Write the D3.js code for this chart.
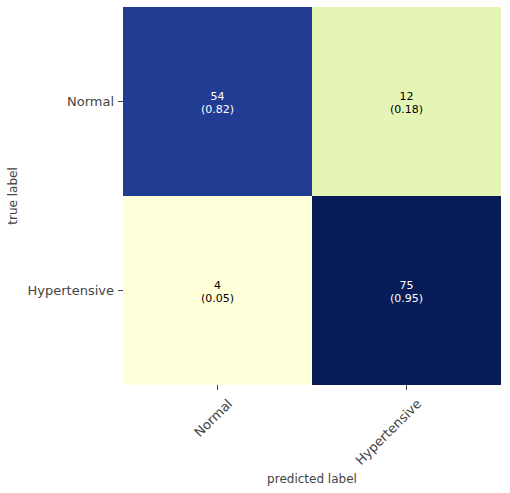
<!DOCTYPE html>
<html><head><meta charset="utf-8">
<script src="https://cdn.jsdelivr.net/npm/d3@7"></script>
<style>body{margin:0;background:#fff}</style>
</head><body>
<script>
var labels = ["Normal", "Hypertensive"];
var counts = [[54, 12], [4, 75]];
var rates = [[0.82, 0.18], [0.05, 0.95]];

var w = 510, h = 493;
var mLeft = 123, mTop = 7, size = 378;

var svg = d3.select("body").append("svg").attr("width", w).attr("height", h)
    .style("font-family", "DejaVu Sans, sans-serif");

var x = d3.scaleBand().domain(labels).range([mLeft, mLeft + size]);
var y = d3.scaleBand().domain(labels).range([mTop, mTop + size]);
var color = d3.scaleSequential(d3.interpolateYlGnBu).domain([0.05, 0.95]);

var cells = [];
labels.forEach(function(t, i) {
    labels.forEach(function(p, j) {
        cells.push({t: t, p: p, n: counts[i][j], r: rates[i][j]});
    });
});

svg.selectAll("rect").data(cells).enter().append("rect")
    .attr("x", function(d) { return x(d.p); })
    .attr("y", function(d) { return y(d.t); })
    .attr("width", x.bandwidth()).attr("height", y.bandwidth())
    .attr("fill", function(d) { return color(d.r); });

var txt = svg.selectAll("text.cell").data(cells).enter().append("text")
    .attr("class", "cell")
    .attr("text-anchor", "middle")
    .attr("font-size", "11px")
    .attr("fill", function(d) { return d.r > 0.5 ? "#fff" : "#000"; });
txt.append("tspan")
    .attr("x", function(d) { return x(d.p) + x.bandwidth() / 2; })
    .attr("y", function(d) { return y(d.t) + y.bandwidth() / 2 - 2; })
    .text(function(d) { return d.n; });
txt.append("tspan")
    .attr("x", function(d) { return x(d.p) + x.bandwidth() / 2; })
    .attr("y", function(d) { return y(d.t) + y.bandwidth() / 2 + 11; })
    .text(function(d) { return "(" + d.r.toFixed(2) + ")"; });

var yAxis = svg.append("g").attr("transform", "translate(" + mLeft + ",0)")
    .call(d3.axisLeft(y).tickSize(5).tickPadding(4));
var xAxis = svg.append("g").attr("transform", "translate(0," + (mTop + size) + ")")
    .call(d3.axisBottom(x).tickSize(5).tickPadding(4));
[xAxis, yAxis].forEach(function(a) {
    a.select(".domain").remove();
    a.selectAll("line").attr("stroke", "#444");
    a.selectAll("text").attr("font-size", "13px").attr("fill", "#444")
        .style("font-family", "DejaVu Sans, sans-serif");
});
xAxis.selectAll("text")
    .attr("text-anchor", "end")
    .attr("dy", "0.35em")
    .attr("transform", "translate(6,10) rotate(-45)");

svg.append("text").attr("x", mLeft + size / 2).attr("y", 483)
    .attr("text-anchor", "middle").attr("font-size", "12px").attr("fill", "#444")
    .text("predicted label");
svg.append("text").attr("transform", "translate(17," + (mTop + size / 2) + ") rotate(-90)")
    .attr("text-anchor", "middle").attr("font-size", "12px").attr("fill", "#444")
    .text("true label");
</script>
</body></html>
